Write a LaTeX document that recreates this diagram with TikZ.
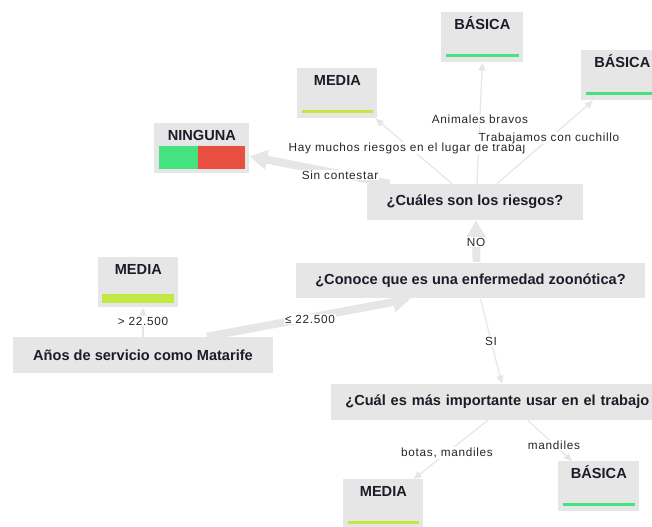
\documentclass[tikz,border=0pt]{standalone}
\usepackage{fontspec}
\setmainfont{Liberation Sans}
\newfontfamily\edgefont[LetterSpace=6]{Liberation Sans}
\usepackage{tikz}
\usetikzlibrary{arrows.meta,calc}

\definecolor{boxgray}{HTML}{E6E6E6}
\definecolor{edgegray}{HTML}{E6E6E6}
\definecolor{leafgreen}{HTML}{45E380}
\definecolor{leafred}{HTML}{E94F3F}
\definecolor{leaflime}{HTML}{C3E843}
\definecolor{txtdark}{HTML}{1C1C28}

\begin{document}
\begin{tikzpicture}[x=0.02cm,y=-0.02cm]
% Styles

   \tikzstyle{question} = [fill=boxgray, inner sep=0, minimum height=0.72cm, text=txtdark, font=\fontsize{8.3}{10}\selectfont\bfseries]
   \tikzstyle{leaf} = [fill=boxgray, inner sep=0, anchor=north west, minimum width=1.6cm, text height=0.34cm, text depth=0.66cm, text=txtdark, font=\fontsize{8.3}{10}\selectfont\bfseries]
   \tikzstyle{thin edge} = [draw=edgegray, line width=0.7pt, -{Triangle[length=4.5pt,width=4pt]}]
   \tikzstyle{thick edge} = [draw=edgegray, line width=4.5pt, -{Triangle[length=10pt,width=11pt]}]
   \tikzstyle{cond} = [fill=white, inner sep=0.5pt, text=black!85, font=\edgefont\fontsize{6.7}{8}\selectfont]

\useasboundingbox (0,0) rectangle (652,527);
\clip (0,0) rectangle (652,527);

% Questions
\node at (143,355) [question, minimum width=5.2cm] (anos) {Años de servicio como Matarife};
\node at (470.5,280.5) [question, minimum width=6.98cm] (conoce) {¿Conoce que es una enfermedad zoonótica?};
\node at (475,202) [question, minimum width=4.32cm] (cuales) {¿Cuáles son los riesgos?};
\node at (331,402) [question, anchor=west, inner xsep=0.28cm, text width=6.5cm, align=left] (cual) {¿Cuál es más importante usar en el trabajo};

% Leaves
\node at (441,12) [leaf, minimum width=1.64cm] (basicaA) {BÁSICA};
\node at (581,50) [leaf, minimum width=1.64cm] (basicaB) {BÁSICA};
\node at (297,68) [leaf] (mediaA) {MEDIA};
\node at (154,123) [leaf, minimum width=1.9cm] (ninguna) {NINGUNA};
\node at (98,257) [leaf] (mediaB) {MEDIA};
\node at (343,479) [leaf] (mediaC) {MEDIA};
\node at (558,461) [leaf, minimum width=1.62cm] (basicaC) {BÁSICA};

% Bars
\fill[leafgreen] ($(basicaA.south west)+(5,-6)$) rectangle ($(basicaA.south east)+(-5,-9)$);
\fill[leafgreen] ($(basicaB.south west)+(5,-6)$) rectangle ($(basicaB.south east)+(-5,-9)$);
\fill[leaflime] ($(mediaA.south west)+(5,-6)$) rectangle ($(mediaA.south east)+(-5,-9)$);
\fill[leafgreen] ($(basicaC.south west)+(5,-6)$) rectangle ($(basicaC.south east)+(-5,-9)$);
\fill[leaflime] ($(mediaC.south west)+(5,-6)$) rectangle ($(mediaC.south east)+(-5,-9)$);
\fill[leaflime] ($(mediaB.south west)+(4,-5)$) rectangle ($(mediaB.south east)+(-5,-14)$);
\fill[leafgreen] ($(ninguna.south west)+(5,-5)$) rectangle ($(ninguna.south west)+(44,-28)$);
\fill[leafred] ($(ninguna.south west)+(44,-5)$) rectangle ($(ninguna.south east)+(-5,-28)$);

% Connectors
\draw[thin edge] (anos.north) -- (anos.north |- mediaB.south);
\draw[thick edge] ($(anos.north)+(64,0)$) -- ($(conoce.south)+(-60,0)$);
\draw[thick edge] ($(conoce.north)+(6,0)$) -- ($(cuales.south)+(1,0)$);
\draw[thin edge] ($(conoce.south)+(10,0)$) -- ($(cual.north)+(-6,0)$);
\draw[thick edge] ($(cuales.north west)+(23,0)$) -- ($(ninguna.east)+(0,8)$);
\draw[thin edge] ($(cuales.north)+(-23,0)$) -- ($(mediaA.south east)+(-2,0)$);
\draw[thin edge] ($(cuales.north)+(2,0)$) -- (basicaA.south);
\draw[thin edge] ($(cuales.north)+(22,0)$) -- ($(basicaB.south west)+(12,0)$);
\draw[thin edge] ($(cual.south)+(-20,0)$) -- ($(mediaC.north east)+(-10,0)$);
\draw[thin edge] ($(cual.south)+(20,0)$) -- ($(basicaC.north west)+(14,0)$);

% Conditions
\node at (143,321) [cond] (gt) {> 22.500};
\node at (310,319) [cond] (le) {≤ 22.500};
\node at (476,242) [cond] (no) {NO};
\node at (491,341) [cond] (si) {SI};
\node at (340,175) [cond] (sin) {Sin contestar};
\node at (407,148) [cond] (hay) {Hay muchos riesgos en el lugar de trabaj};
\node at (480,119) [cond] (animales) {Animales bravos};
\node at (549,138) [cond] (trabajamos) {Trabajamos con cuchillo};
\node at (447,453) [cond] (botas) {botas, mandiles};
\node at (554,445) [cond] (mandiles) {mandiles};
\end{tikzpicture}
\end{document}
